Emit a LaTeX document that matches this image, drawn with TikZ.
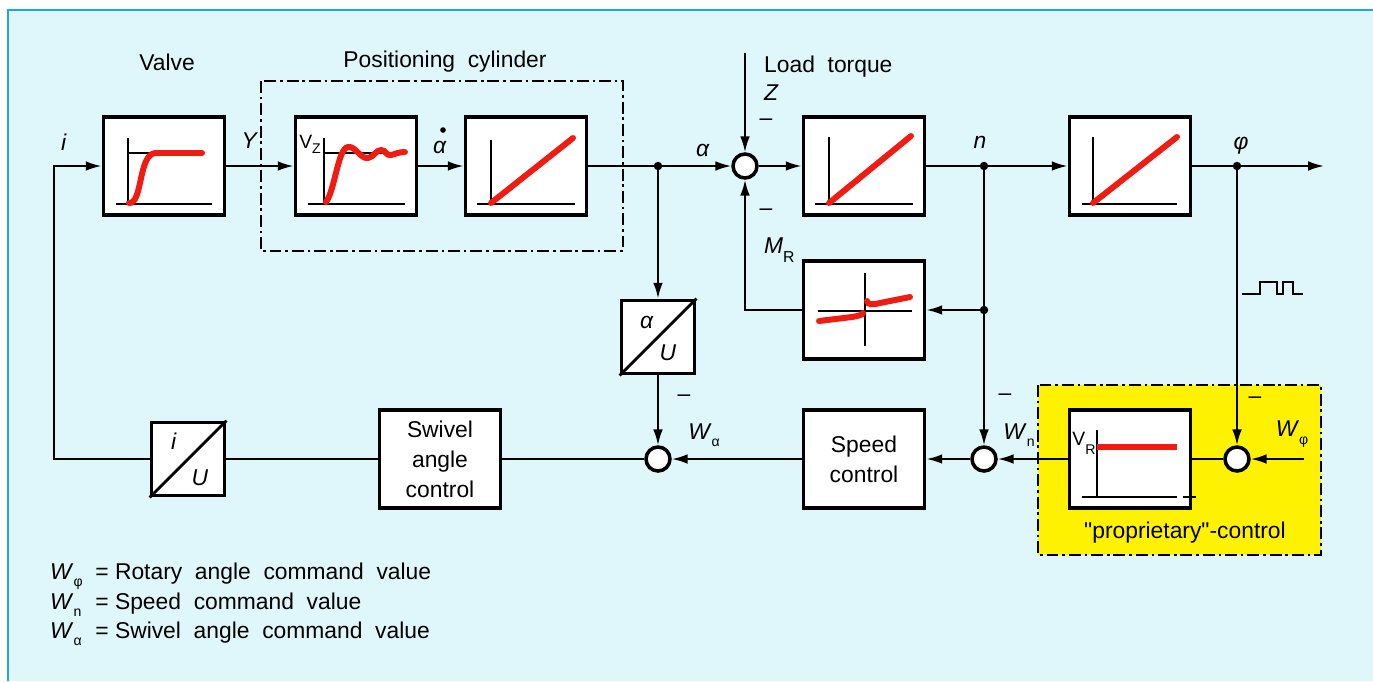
\documentclass[tikz,border=0pt]{standalone}
\usepackage{fontspec}
\setmainfont{Liberation Sans}
\usetikzlibrary{arrows.meta}
\definecolor{paneblue}{RGB}{223,246,251}
\definecolor{rimblue}{RGB}{35,165,225}
\definecolor{curvered}{RGB}{240,28,18}
\definecolor{propyellow}{RGB}{255,242,0}
\newcommand{\Wsym}[1]{\textit{W}\raisebox{-0.6ex}{\fontsize{8}{8}\selectfont #1}}
\newcommand{\lowsub}[2]{#1\raisebox{-0.7ex}{\fontsize{9}{9}\selectfont #2}}

\begin{document}
\begin{tikzpicture}[x=0.02cm, y=-0.02cm, >={Latex[length=9pt,width=5.5pt]},
  every node/.style={font=\fontsize{13}{17}\selectfont},
  blk/.style={draw, line width=2.2pt, fill=white, minimum width=2.42cm, minimum height=1.96cm, inner sep=0pt},
  conv/.style={draw, line width=2.2pt, fill=white, minimum size=1.46cm, inner sep=0pt},
  sumpt/.style={circle, draw, line width=2pt, fill=white, minimum size=0.48cm, inner sep=0pt},
  sig/.style={line width=1.2pt},
  axis/.style={line width=0.8pt},
  resp/.style={curvered, line width=3.4pt, line cap=round},
  grp/.style={line width=1.2pt, dash pattern=on 6.8pt off 2.2pt on 1.5pt off 2.2pt}]
\useasboundingbox (0,0) rectangle (1373,681);
\fill[white] (0,0) rectangle (1373,681);
\fill[paneblue] (8,10) rectangle (1373,681);
\draw[rimblue, line width=1.6pt] (8,681) -- (8,10) -- (1373,10);
\filldraw[fill=propyellow, grp] (1038,385) rectangle (1321,555);

\node[blk] (valve) at (164,166) {};
\node[blk] (cylA) at (356,166) {};
\node[blk] (cylB) at (526,166) {};
\node[blk] (plant1) at (864,166) {};
\node[blk] (plant2) at (1130,166) {};
\node[blk] (fric) at (864,310) {};
\node[conv] (aU) at (658,337) {};
\node[conv] (iU) at (188,459) {};
\node[blk, align=center] (swivel) at (440,459) {Swivel\\angle\\control};
\node[blk, align=center] (speed) at (864,459) {Speed\\control};
\node[blk] (vr) at (1130,459) {};
\node[sumpt] (sumM) at (745,166) {};
\node[sumpt] (sumA) at (658,459) {};
\node[sumpt] (sumN) at (984,459) {};
\node[sumpt] (sumP) at (1237,459) {};

\coordinate (ja) at (658,166);
\coordinate (jn) at (984,166);
\coordinate (jf) at (984,310);
\coordinate (jp) at (1237,166);
\coordinate (out) at (1324,166);
\coordinate (ztop) at (745,53);
\coordinate (wphi) at (1304,459);
\coordinate (lc) at (54,459);
\coordinate (tc) at (54,166);

\draw[sig,->] (iU.west) -- (lc) -- (tc) -- (valve.west);
\draw[sig,->] (valve) -- (cylA);
\draw[sig,->] (cylA) -- (cylB);
\draw[sig] (cylB) -- (ja);
\draw[sig,->] (ja) -- (sumM);
\draw[sig,->] (sumM) -- (plant1);
\draw[sig] (plant1) -- (jn);
\draw[sig,->] (jn) -- (plant2);
\draw[sig,->] (plant2) -- (out);
\draw[sig,->] (ztop) -- (sumM);
\draw[sig,->] (fric.west) -| (sumM.south);
\draw[sig,->] (jf) -- (fric.east);
\draw[sig,->] (jn) -- (sumN);
\draw[sig,->] (ja) -- (aU);
\draw[sig,->] (aU) -- (sumA);
\draw[sig,->] (jp) -- (sumP);
\draw[sig,->] (wphi) -- (sumP);
\draw[sig] (sumP) -- (vr);
\draw[sig,->] (vr) -- (sumN);
\draw[sig,->] (sumN) -- (speed);
\draw[sig,->] (speed) -- (sumA);
\draw[sig] (sumA) -- (swivel);
\draw[sig] (swivel) -- (iU);
\foreach \j in {ja,jn,jf,jp} \fill (\j) circle (2.4pt);
\draw[line width=1.6pt] (aU.south west) -- (aU.north east);
\draw[line width=1.6pt] (iU.south west) -- (iU.north east);
\draw[grp] (261,81) rectangle (623,251);

\draw[axis] (128,138) -- (128,204) (116,204) -- (212,204) (128,153) -- (200,153);
\draw[resp] (129,203) .. controls (143,204) and (138,153) .. (156,153) -- (202,153);
\draw[axis] (324,138) -- (324,204) (308,204) -- (405,204) (324,153) -- (398,153);
\draw[resp] (326,202) .. controls (335,190) and (338,148) .. (348,147) .. controls (356,146) and (360,159) .. (368,158) .. controls (374,157) and (376,150) .. (381,150) .. controls (386,150) and (386,156) .. (391,155) .. controls (396,154) and (398,152) .. (405,152);
\draw[axis] (491,140) -- (491,204) (477,204) -- (575,204);
\draw[resp] (491,203) -- (573,138);
\draw[axis] (829,137) -- (829,204) (815,204) -- (913,204);
\draw[resp] (829,203) -- (911,136);
\draw[axis] (1093,137) -- (1093,204) (1082,204) -- (1177,204);
\draw[resp] (1093,203) -- (1177,137);
\draw[axis] (865,273) -- (865,346) (818,311) -- (912,311);
\draw[resp] (819,321) -- (852,317) .. controls (858,316) and (862,315) .. (863,313);
\draw[resp] (867,301) .. controls (868,305) and (872,305) .. (880,303) -- (910,297);
\draw[axis] (1097,430) -- (1097,497) (1082,497) -- (1177,497) (1183,497) -- (1196,497);
\draw[resp, line cap=butt] (1097,447) -- (1177,447);
\draw[line width=1pt] (1242,294) -- (1260,294) -- (1260,282) -- (1277,282) -- (1277,294) -- (1283,294) -- (1283,282) -- (1293,282) -- (1293,294) -- (1303,294);

\node at (167,62) {Valve};
\node at (445,62) {Positioning\ \ cylinder};
\node at (64,142) {\textit{i}};
\node at (250,141) {\textit{Y}};
\node (adot) at (440,147) {\textit{α}};
\fill (443,130) circle (1.6pt);
\node at (703,150) {\textit{α}};
\node[anchor=west] at (758,67) {Load\ \ torque};
\node[anchor=west] at (758,93) {\textit{Z}};
\node at (766,122) {–};
\node at (766,212) {–};
\node[anchor=west] at (758,250) {\lowsub{\textit{M}}{R}};
\node at (980,142) {\textit{n}};
\node at (1241,146) {\textit{φ}};
\node[anchor=west, inner sep=0pt, font=\fontsize{11}{13}\selectfont] at (299,144) {V\raisebox{-0.5ex}{\fontsize{8}{8}\selectfont Z}};
\node[anchor=west, inner sep=0pt, font=\fontsize{11}{13}\selectfont] at (1072,443) {V\raisebox{-0.9ex}{\fontsize{8}{8}\selectfont R}};
\node at (647,322) {\textit{α}};
\node at (668,353) {\textit{U}};
\node at (174,441) {\textit{i}};
\node at (200,478) {\textit{U}};
\node at (684,398) {–};
\node at (1005,397) {–};
\node at (1255,400) {–};
\node at (704,435) {\Wsym{α}};
\node at (1019,435) {\Wsym{n}};
\node at (1292,434) {\Wsym{φ}};
\node at (1185,533) {\textquotedbl proprietary\textquotedbl -control};
\node[anchor=west] (legend) at (44,603) {\renewcommand\arraystretch{0.96}\begin{tabular}{@{}l@{\ \ }l@{}}
\Wsym{φ} & =\ Rotary\ \ angle\ \ command\ \ value\\
\Wsym{n} & =\ Speed\ \ command\ \ value\\
\Wsym{α} & =\ Swivel\ \ angle\ \ command\ \ value
\end{tabular}};
\end{tikzpicture}
\end{document}
